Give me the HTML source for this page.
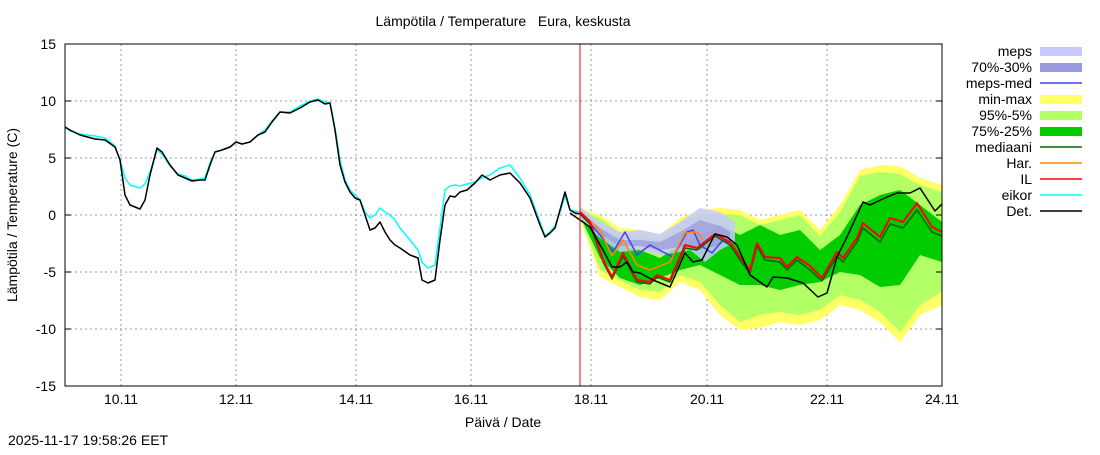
<!DOCTYPE html>
<html><head><meta charset="utf-8"><style>
body{margin:0;background:#fff}
svg text{font-family:"Liberation Sans",sans-serif;font-size:14px;fill:#000}
</style></head><body>
<svg width="1100" height="450" xmlns="http://www.w3.org/2000/svg">
<rect width="1100" height="450" fill="#fff"/>
<g stroke="#999" stroke-dasharray="2,3" stroke-width="1">
<line x1="65" y1="101" x2="942" y2="101"/><line x1="65" y1="158" x2="942" y2="158"/><line x1="65" y1="215" x2="942" y2="215"/><line x1="65" y1="272" x2="942" y2="272"/><line x1="65" y1="329" x2="942" y2="329"/>
<line x1="121" y1="44" x2="121" y2="386"/><line x1="236" y1="44" x2="236" y2="386"/><line x1="356" y1="44" x2="356" y2="386"/><line x1="471" y1="44" x2="471" y2="386"/><line x1="591" y1="44" x2="591" y2="386"/><line x1="707" y1="44" x2="707" y2="386"/><line x1="827" y1="44" x2="827" y2="386"/>
</g>
<polygon fill="#ffff66" points="580,208 600,215 620,228 640,230 660,235 680,218 700,210 720,208 740,210 760,220 780,215 800,210 820,230 840,205 860,170 880,165 900,166 920,178 942,185 942,305 920,315 900,342 880,322 860,310 840,305 820,320 800,325 780,322 760,328 740,330 720,315 700,290 680,282 660,300 640,297 620,287 600,277 580,218"/>
<polygon fill="#b3ff66" points="580,210 600,218 620,233 640,236 660,240 680,222 700,214 720,214 740,215 760,225 780,220 800,215 820,236 840,212 860,176 880,172 900,174 920,185 942,192 942,292 920,305 900,332 880,312 860,300 840,295 820,310 800,315 780,312 760,315 740,322 720,305 700,282 680,275 660,292 640,290 620,280 600,270 580,217"/>
<polygon fill="#00cc00" points="580,214 600,228 620,245 640,250 660,258 680,245 700,235 720,225 740,235 760,225 780,235 800,230 820,250 840,235 860,205 880,195 900,190 920,205 942,222 942,262 920,255 900,285 880,287 860,275 840,272 820,282 800,285 780,290 760,285 740,285 720,275 700,265 680,270 660,278 640,285 620,278 600,258 580,216"/>
<polygon fill="#c8c8ff" opacity="0.85" points="580,207 600,222 620,232 640,230 660,234 680,222 700,208 720,212 735,222 735,242 720,250 705,262 690,250 680,252 660,255 640,250 620,252 600,238 580,218"/>
<polygon fill="#9999dd" opacity="0.7" points="582,212 600,228 620,240 640,240 660,242 680,232 700,220 720,226 730,232 730,238 720,245 700,250 680,247 660,250 640,246 620,246 600,234 582,216"/>
<g fill="none" stroke-linejoin="round">
<polyline stroke="#00ffff" stroke-width="1.5" points="65,127 70,131 80,134 95,136 105,138 115,146 120,160 125,178 130,185 140,188 145,184 150,172 157,150 162,154 170,166 178,174 185,176 192,180 200,179 205,178 210,163 215,152 222,150 230,147 236,142 242,144 250,142 258,135 265,130 272,121 280,112 290,112 300,106 310,101 318,99 325,102 330,103 335,128 340,160 345,180 350,190 355,195 360,200 365,212 370,218 375,215 380,208 385,212 390,215 395,220 400,228 410,240 418,250 422,262 428,268 435,265 440,228 445,190 450,186 455,185 460,186 467,184 475,182 482,178 490,175 500,168 510,165 520,178 530,195 540,222 545,236 550,232 555,226 560,212 565,196 570,210 575,211 580,212"/>
<polyline stroke="#000" stroke-width="1.5" points="65,127 70,130 80,135 95,139 105,140 115,147 120,160 125,195 130,205 140,209 145,200 150,175 157,148 162,152 170,165 178,175 185,178 192,181 200,180 205,180 210,165 215,152 222,150 230,147 236,142 242,144 250,142 258,135 265,132 272,122 280,112 290,113 300,108 310,102 318,100 325,104 330,103 335,130 340,165 345,182 350,192 355,198 360,200 365,215 370,230 375,228 380,222 385,232 390,240 395,245 400,248 410,255 418,258 422,280 428,283 435,280 440,240 445,205 450,196 455,197 460,192 467,190 475,183 482,175 490,180 500,175 510,173 520,183 530,198 540,225 545,237 550,233 555,228 560,210 565,192 570,210 575,213 580,214"/>
<polyline stroke="#4444ee" stroke-width="1.5" points="583,215 600,235 613,252 625,232 637,255 650,245 663,252 673,257 687,232 693,230 700,245 712,253 723,240 730,243"/>
<polyline stroke="#ff8800" stroke-width="1.5" points="580,212 600,230 612,256 623,240 637,265 650,270 670,262 685,233 697,232 703,240"/>
<polyline stroke="#006600" stroke-width="1.5" points="580,214 590,224 603,262 612,279 623,256 637,282 650,284 657,277 670,282 685,248 697,250 715,236 730,245 740,260 750,273 757,246 765,260 780,262 787,270 797,260 810,270 822,281 837,256 843,262 857,242 863,228 880,242 890,224 903,228 917,210 932,232 942,236"/>
<polyline stroke="#ff0000" stroke-width="2" points="580,212 590,222 603,260 612,277 623,253 637,280 650,282 657,275 670,280 685,245 697,248 715,234 730,242 740,257 750,270 757,243 765,257 780,258 787,267 797,257 810,266 822,278 837,252 843,258 857,238 863,223 880,237 890,218 903,222 917,203 932,227 942,232"/>
<polyline stroke="#000" stroke-width="1.5" points="570,213 580,220 590,227 603,250 612,267 620,267 627,262 633,272 640,273 653,280 670,287 685,253 693,262 702,260 715,234 727,237 737,245 750,275 767,287 773,277 787,278 803,283 818,297 827,293 837,257 847,237 863,202 870,205 887,197 897,193 910,193 920,188 935,211 942,204"/>
</g>
<line x1="580" y1="44" x2="580" y2="386" stroke="#ff0000" stroke-width="1"/>
<rect x="65" y="44" width="877" height="342" fill="none" stroke="#000" stroke-width="1"/>
<g stroke="#000">
<line x1="65" y1="101" x2="71" y2="101"/><line x1="65" y1="158" x2="71" y2="158"/><line x1="65" y1="215" x2="71" y2="215"/><line x1="65" y1="272" x2="71" y2="272"/><line x1="65" y1="329" x2="71" y2="329"/>
<line x1="936" y1="101" x2="942" y2="101"/><line x1="936" y1="158" x2="942" y2="158"/><line x1="936" y1="215" x2="942" y2="215"/><line x1="936" y1="272" x2="942" y2="272"/><line x1="936" y1="329" x2="942" y2="329"/>
</g>
<g text-anchor="end">
<text x="56" y="49">15</text><text x="56" y="106">10</text><text x="56" y="163">5</text><text x="56" y="220">0</text><text x="56" y="277">-5</text><text x="56" y="334">-10</text><text x="56" y="391">-15</text>
</g>
<g text-anchor="middle">
<text x="121" y="404">10.11</text><text x="236" y="404">12.11</text><text x="356" y="404">14.11</text><text x="471" y="404">16.11</text><text x="591" y="404">18.11</text><text x="707" y="404">20.11</text><text x="827" y="404">22.11</text><text x="942" y="404">24.11</text>
<text x="503" y="427">Päivä / Date</text>
<text x="503" y="26" style="white-space:pre">Lämpötila / Temperature&#160;&#160;&#160;Eura, keskusta</text>
<text transform="translate(17,215) rotate(-90)">Lämpötila / Temperature (C)</text>
</g>
<text x="8" y="445">2025-11-17 19:58:26 EET</text>
<g text-anchor="end">
<text x="1032" y="56">meps</text><text x="1032" y="72">70%-30%</text><text x="1032" y="88">meps-med</text><text x="1032" y="104">min-max</text><text x="1032" y="120">95%-5%</text><text x="1032" y="136">75%-25%</text><text x="1032" y="152">mediaani</text><text x="1032" y="168">Har.</text><text x="1032" y="184">IL</text><text x="1032" y="200">eikor</text><text x="1032" y="216">Det.</text>
</g>
<rect x="1040" y="47" width="42" height="9" fill="#c8c8ff"/>
<rect x="1040" y="63" width="42" height="9" fill="#9999dd"/>
<line x1="1040" y1="83" x2="1082" y2="83" stroke="#4444ee" stroke-width="1.5"/>
<rect x="1040" y="95" width="42" height="9" fill="#ffff66"/>
<rect x="1040" y="111" width="42" height="9" fill="#b3ff66"/>
<rect x="1040" y="127" width="42" height="9" fill="#00cc00"/>
<line x1="1040" y1="147" x2="1082" y2="147" stroke="#006600" stroke-width="1.5"/>
<line x1="1040" y1="163" x2="1082" y2="163" stroke="#ff8800" stroke-width="1.5"/>
<line x1="1040" y1="179" x2="1082" y2="179" stroke="#ff0000" stroke-width="1.5"/>
<line x1="1040" y1="195" x2="1082" y2="195" stroke="#00ffff" stroke-width="1.5"/>
<line x1="1040" y1="211" x2="1082" y2="211" stroke="#000" stroke-width="1.5"/>
</svg>
</body></html>
